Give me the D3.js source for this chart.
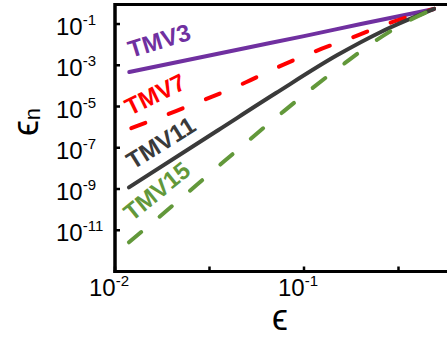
<!DOCTYPE html>
<html>
<head>
<meta charset="utf-8">
<script src="https://cdn.jsdelivr.net/npm/d3@7"></script>
<style>
  body { margin: 0; background: #fff; }
  svg { display: block; font-family: "Liberation Sans", Arial, sans-serif; }
</style>
</head>
<body>
<div id="chart"></div>
<script>
// values (epsilon, epsilon_n)
const tmv3Eps = [0.0119, 0.05, 0.1, 0.2, 0.488];
const tmv3Err = [4.7e-4, 7.1e-3, 0.026, 0.1, 0.54];

const tmv7Eps = [0.0122, 0.021, 0.0493, 0.0747, 0.1157, 0.1815, 0.282, 0.488];
const tmv7Err = [8.9e-7, 6.0e-6, 1.5e-4, 9.1e-4, 4.9e-3, 0.023, 0.11, 0.54];

const tmv11Eps = [0.01185, 0.0351, 0.0711, 0.151, 0.255, 0.488];
const tmv11Err = [1.2e-9, 7.1e-7, 4.5e-5, 3.2e-3, 0.041, 0.54];

const tmv15Eps = [0.01185, 0.0186, 0.0378, 0.0783, 0.165, 0.243, 0.364, 0.488];
const tmv15Err = [2.6e-12, 8.3e-11, 2.2e-8, 6.0e-6, 1.3e-3, 0.017, 0.155, 0.54];

const xTicks = [1e-2, Math.pow(10, -1.5), 1e-1, Math.pow(10, -0.5)];
const xTickLabels = ["-2", "", "-1", ""];
const yTicks = [1e-1, 1e-3, 1e-5, 1e-7, 1e-9, 1e-11];
const yTickLabels = ["-1", "-3", "-5", "-7", "-9", "-11"];

const series = [
    { name: "TMV3", eps: tmv3Eps, err: tmv3Err, color: "#7030a0", dash: null,
      lx: 131, ly: 58, angle: -17 },
    { name: "TMV7", eps: tmv7Eps, err: tmv7Err, color: "#ff0000", dash: "15,25",
      lx: 130, ly: 116, angle: -26 },
    { name: "TMV11", eps: tmv11Eps, err: tmv11Err, color: "#3a3a3a", dash: null,
      lx: 133, ly: 170, angle: -32 },
    { name: "TMV15", eps: tmv15Eps, err: tmv15Err, color: "#62983a", dash: "16,24",
      lx: 132, ly: 222, angle: -39 }
];

const W = 447, H = 337;
const padLeft = 115, padTop = 4.5, padBottom = 271.5;

const x = d3.scaleLog().domain([1e-2, Math.pow(10, -2 + (W - padLeft) / 189)]).range([padLeft, W]);
const y = d3.scaleLog().domain([1e-13, 1]).range([padBottom, 3.4]);

const svg = d3.select("#chart").append("svg")
    .attr("width", W)
    .attr("height", H);

// curves
const line = d3.line()
    .x(d => x(d[0]))
    .y(d => y(d[1]))
    .curve(d3.curveMonotoneX);
series.forEach(s => {
    svg.append("path")
        .datum(s.eps.map((e, i) => [e, s.err[i]]))
        .attr("d", line)
        .attr("fill", "none")
        .attr("stroke", s.color)
        .attr("stroke-width", 4)
        .attr("stroke-linecap", "round")
        .attr("stroke-dasharray", s.dash);

    svg.append("text")
        .attr("transform", `translate(${s.lx},${s.ly}) rotate(${s.angle})`)
        .attr("fill", s.color)
        .attr("font-size", 24)
        .attr("font-weight", "bold")
        .text(s.name);
});

// frame
svg.append("line")
    .attr("x1", padLeft).attr("x2", W).attr("y1", padTop).attr("y2", padTop)
    .attr("stroke", "#000").attr("stroke-width", 3);
svg.append("line")
    .attr("x1", padLeft).attr("x2", padLeft).attr("y1", padTop - 1.5).attr("y2", padBottom + 1.5)
    .attr("stroke", "#000").attr("stroke-width", 3.5);
svg.append("line")
    .attr("x1", padLeft - 1.5).attr("x2", W).attr("y1", padBottom).attr("y2", padBottom)
    .attr("stroke", "#000").attr("stroke-width", 3);

// x ticks
svg.selectAll(".xtick")
    .data(xTicks)
    .join("line")
    .attr("class", "xtick")
    .attr("x1", d => x(d)).attr("x2", d => x(d))
    .attr("y1", padBottom).attr("y2", padBottom - 5)
    .attr("stroke", "#000").attr("stroke-width", 2.5);

const xLabelled = xTicks.filter((d, i) => xTickLabels[i] !== "");
const xLabelText = xTickLabels.filter(l => l !== "");
const xl = svg.selectAll(".xlab")
    .data(xLabelled)
    .join("text")
    .attr("class", "xlab")
    .attr("x", d => x(d) - 6)
    .attr("y", 296)
    .attr("text-anchor", "middle")
    .attr("font-size", 24);
xl.append("tspan").text("10");
xl.append("tspan")
    .attr("font-size", 15)
    .attr("dy", -10)
    .text((d, i) => xLabelText[i]);

// y ticks
svg.selectAll(".ytick")
    .data(yTicks)
    .join("line")
    .attr("class", "ytick")
    .attr("x1", padLeft).attr("x2", padLeft + 5)
    .attr("y1", d => y(d)).attr("y2", d => y(d))
    .attr("stroke", "#000").attr("stroke-width", 2.5);

const yl = svg.selectAll(".ylab")
    .data(yTicks)
    .join("text")
    .attr("class", "ylab")
    .attr("x", 56)
    .attr("y", d => y(d) + 11)
    .attr("font-size", 24);
yl.append("tspan").text("10");
yl.append("tspan")
    .attr("font-size", 15)
    .attr("dy", -10)
    .text((d, i) => yTickLabels[i]);

// axis labels
svg.append("text")
    .attr("x", 280)
    .attr("y", 330)
    .attr("text-anchor", "middle")
    .attr("font-size", 36)
    .text("\u03f5");

const yLab = svg.append("text")
    .attr("transform", "translate(38,122) rotate(-90)")
    .attr("text-anchor", "middle")
    .attr("font-size", 36);
yLab.append("tspan").text("\u03f5");
yLab.append("tspan").attr("font-size", 22).attr("dy", 2).text("n");
</script>
</body>
</html>
